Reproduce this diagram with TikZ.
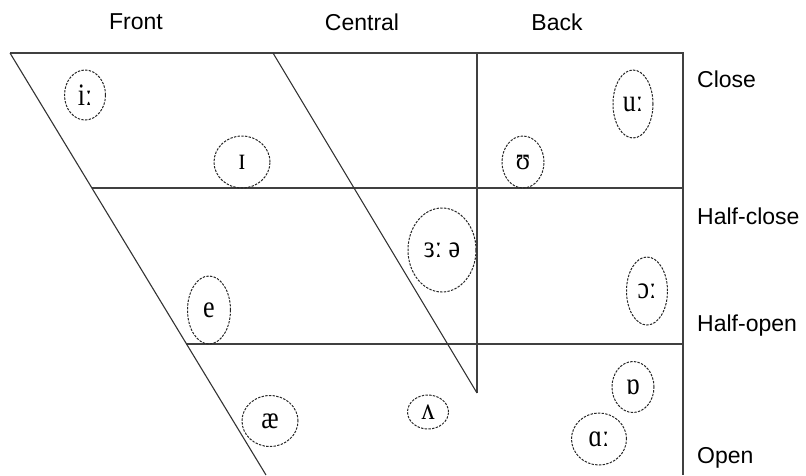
\documentclass[tikz,border=0pt]{standalone}
\usepackage{fontspec}
\setmainfont{Liberation Sans}
\newfontfamily\ipafont{Liberation Serif}
\usetikzlibrary{shapes.geometric}
\newcommand{\ipatext}[1]{\scalebox{1}[1.2]{#1}}
\begin{document}
\begin{tikzpicture}[x=1pt,y=-1pt,
  chartline/.style={draw=black!75, line width=1.5pt},
  diagline/.style={draw=black!80, line width=1.1pt},
  vowel/.style={ellipse, draw=black!85, dash pattern=on 2.4pt off 1.3pt, line width=1pt, inner sep=0pt,
    font=\ipafont\fontsize{26}{26}\selectfont},
  lbl/.style={font=\fontsize{23}{23}\selectfont, inner sep=0pt}]
\useasboundingbox (0,0) rectangle (806,475);
% frame coordinates
\coordinate (tl) at (10,53);
\coordinate (tc) at (273,53);
\coordinate (tb) at (477,53);
\coordinate (tr) at (683,53);
\coordinate (br) at (683,475);
\coordinate (fb) at (266,475);
\coordinate (ce) at (477,393);
\coordinate (h1l) at (92,188);
\coordinate (h1r) at (683,188);
\coordinate (h2l) at (186,344);
\coordinate (h2r) at (683,344);
% lines
\draw[chartline] (tl) -- (tr) -- (br);
\draw[chartline] (h1l) -- (h1r);
\draw[chartline] (h2l) -- (h2r);
\draw[chartline] (tb) -- (ce);
\draw[diagline] (tl) -- (fb);
\draw[diagline] (tc) -- (ce);
% header labels
\node[lbl] (front) at (136,22) {Front};
\node[lbl] (central) at (362,22) {Central};
\node[lbl] (back) at (557,22) {Back};
% right labels
\node[lbl, anchor=west] (close) at (697,79) {Close};
\node[lbl, anchor=west] (hclose) at (697,216) {Half-close};
\node[lbl, anchor=west] (hopen) at (697,326) {Half-open};
\node[lbl, anchor=west] (open) at (697,458) {Open};
% vowels
\node[vowel, minimum width=41pt, minimum height=50pt] (ii) at (85,95) {\ipatext{iː}};
\node[vowel, minimum width=56pt, minimum height=52pt] (ih) at (242,162) {\ipatext{ɪ}};
\node[vowel, minimum width=42pt, minimum height=52pt] (uh) at (523,162) {\ipatext{ʊ}};
\node[vowel, minimum width=40pt, minimum height=68pt] (uu) at (633,104) {\ipatext{uː}};
\node[vowel, minimum width=68pt, minimum height=84pt] (er) at (442,250) {\ipatext{ɜː ə}};
\node[vowel, minimum width=41pt, minimum height=68pt] (oo) at (647,291) {\ipatext{ɔː}};
\node[vowel, minimum width=43pt, minimum height=68pt] (e) at (209,310) {\ipatext{e}};
\node[vowel, minimum width=56pt, minimum height=51pt] (ae) at (270,421) {\ipatext{æ}};
\node[vowel, minimum width=41pt, minimum height=34pt] (uh2) at (428,412) {\ipatext{ʌ}};
\node[vowel, minimum width=42pt, minimum height=51pt] (o) at (633,387) {\ipatext{ɒ}};
\node[vowel, minimum width=55pt, minimum height=52pt] (aa) at (599,439) {\ipatext{ɑː}};
\end{tikzpicture}
\end{document}
